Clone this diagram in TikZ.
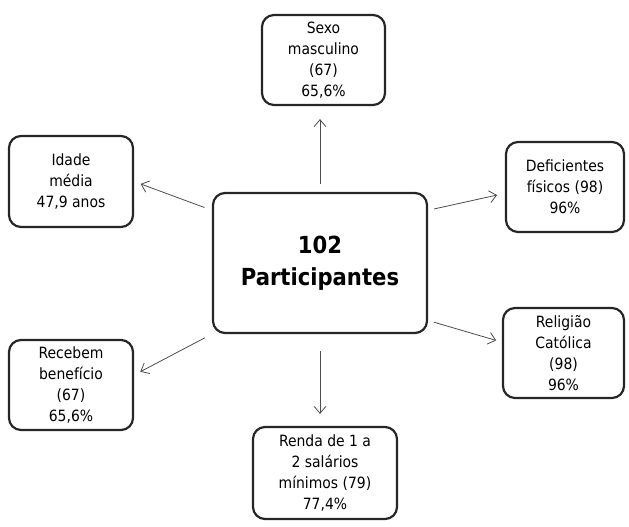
\documentclass[tikz,border=0pt]{standalone}
\usepackage{fontspec}
\setmainfont{DejaVu Sans Condensed}
\usetikzlibrary{arrows.meta}
\begin{document}
\begin{tikzpicture}  % ------ participantes --------------
      [x=1pt,y=-1pt,
       caixa/.style={draw=black!85, line width=2.2pt, rounded corners=12pt,
                     align=center, inner sep=1pt,
                     font=\fontsize{15.5}{20.8}\selectfont},
       seta/.style={draw=black!70, line width=0.8pt,
                    -{Straight Barb[length=7pt,width=12pt]}}]
    \useasboundingbox (0,0) rectangle (629,527);

    \node [caixa, minimum width=214pt, minimum height=140pt,
           font=\fontsize{23.5}{32}\selectfont\bfseries] (centro) at (320,263)
          {102\\Participantes};

    \node [caixa, minimum width=123pt, minimum height=90pt] (sexo) at (323.5,60)
          {Sexo\\masculino\\(67)\\65,6\%};
    \node [caixa, minimum width=124pt, minimum height=91pt] (idade) at (71,181.5)
          {Idade\\média\\47,9 anos};
    \node [caixa, minimum width=124pt, minimum height=90pt] (recebem) at (71,385)
          {Recebem\\benefício\\(67)\\65,6\%};
    \node [caixa, minimum width=118pt, minimum height=90pt] (deficientes) at (565,187)
          {Deficientes\\físicos (98)\\96\%};
    \node [caixa, minimum width=121pt, minimum height=90pt] (religiao) at (563.5,353)
          {Religião\\Católica\\(98)\\96\%};
    \node [caixa, minimum width=144pt, minimum height=92pt] (renda) at (325,473)
          {Renda de 1 a\\2 salários\\mínimos (79)\\77,4\%};

    \draw [seta, shorten <=8pt, shorten >=13pt] (centro.north) -- (centro.north |- sexo.south);
    \draw [seta, shorten <=8pt, shorten >=7pt] (centro.154) -- (idade.east);
    \draw [seta, shorten <=8pt, shorten >=7pt] (centro.south west) -- (recebem.9);
    \draw [seta, shorten <=6pt, shorten >=8pt] (centro.26) -- (deficientes.186);
    \draw [seta, shorten <=6pt, shorten >=6pt] (centro.332) -- (religiao.170);
    \draw [seta, shorten <=17pt, shorten >=12pt] (centro.south) -- (centro.south |- renda.north);
\end{tikzpicture}
\end{document}
